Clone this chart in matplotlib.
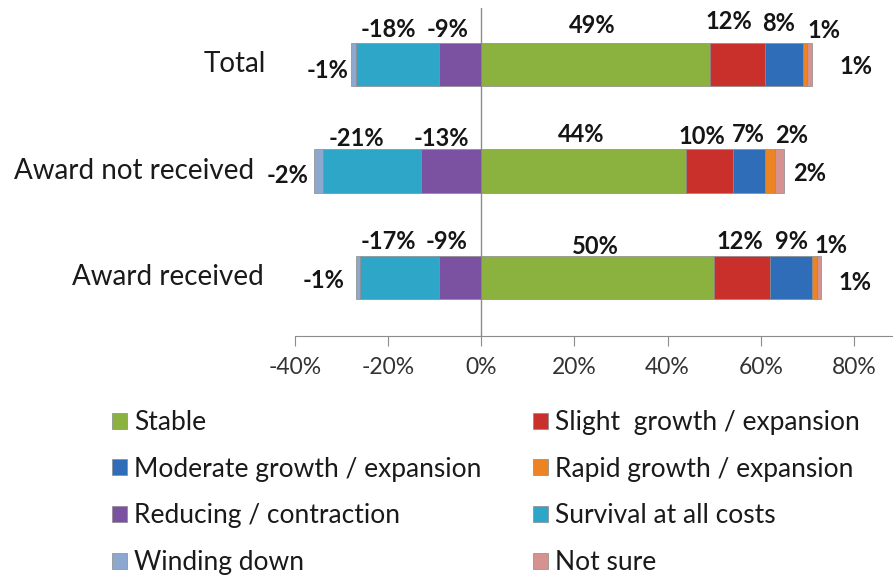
import numpy as np
import matplotlib.pyplot as plt
from matplotlib.patches import Patch
from matplotlib.transforms import blended_transform_factory

plt.rcParams['font.family'] = ['Lato', 'DejaVu Sans']

# Data
categories = ['Award received', 'Award not received', 'Total']
series = ['Stable', 'Slight  growth / expansion', 'Moderate growth / expansion',
          'Rapid growth / expansion', 'Reducing / contraction', 'Survival at all costs',
          'Winding down', 'Not sure']
stable = [50, 44, 49]
slight = [12, 10, 12]
moderate = [9, 7, 8]
rapid = [1, 2, 1]
reducing = [-9, -13, -9]
survival = [-17, -21, -18]
winding = [-1, -2, -1]
not_sure = [1, 2, 1]
xticks = [-40, -20, 0, 20, 40, 60, 80]

values = [stable, slight, moderate, rapid, reducing, survival, winding, not_sure]
colors = ['#8BB23E', '#C9302C', '#2F6DB8', '#EC8424',
          '#7B51A1', '#2DA6C8', '#8DA8CF', '#D69290']

# label nudges (dx in % from segment centre, dy in category units)
label_nudge = {
    'Total': [(-0.6, 0.37), (-1.9, 0.40), (-1.1, 0.38), (4.0, 0.32),
              (-2.8, 0.33), (-2.0, 0.33), (-5.6, -0.06), (9.9, -0.02)],
    'Award not received': [(-0.5, 0.34), (-1.7, 0.32), (-0.1, 0.34), (4.7, 0.33),
                           (-2.1, 0.30), (-3.4, 0.30), (-6.5, -0.04), (6.5, -0.02)],
    'Award received': [(-0.5, 0.29), (-0.4, 0.34), (0.2, 0.34), (3.6, 0.30),
                       (-3.0, 0.34), (-2.5, 0.34), (-7.3, -0.03), (7.7, -0.05)],
}

fig = plt.figure(figsize=(8.93, 5.85), dpi=100)
ax = fig.add_axes([295 / 893, 1 - 336 / 585, 1 - 295 / 893, 328 / 585])

y = np.arange(len(categories))
pos_left = np.zeros(len(categories))
neg_left = np.zeros(len(categories))
centers = []
for vals, col in zip(values, colors):
    v = np.array(vals, dtype=float)
    left = np.where(v >= 0, pos_left, neg_left)
    ax.barh(y, v, left=left, height=0.41, color=col,
            edgecolor='#8a8a8a', linewidth=0.5, zorder=2)
    centers.append(left + v / 2)
    pos_left = np.where(v >= 0, pos_left + v, pos_left)
    neg_left = np.where(v < 0, neg_left + v, neg_left)

for i, cat in enumerate(categories):
    for j, vals in enumerate(values):
        dx, dy = label_nudge[cat][j]
        ax.text(centers[j][i] + dx, y[i] + dy, f'{vals[i]}%',
                ha='center', va='center', fontsize=17, fontweight='bold',
                color='#151515', zorder=3)

# category labels, right aligned left of the plot
cat_x = {'Total': 266, 'Award not received': 254, 'Award received': 264}
trans = blended_transform_factory(fig.transFigure, ax.transData)
for i, cat in enumerate(categories):
    fig.text(cat_x[cat] / 893, y[i], cat, transform=trans, ha='right', va='center',
             fontsize=20, color='#1a1a1a')

ax.set_xlim(-40, 88.4)
ax.set_ylim(-0.55, 2.53)
ax.set_xticks(xticks)
ax.set_xticklabels([f'{t}%' for t in xticks], fontsize=16.5, color='#333333')
ax.set_yticks([])
ax.axvline(0, color='#8c8c8c', linewidth=1.0, zorder=1)
for s in ['top', 'right', 'left']:
    ax.spines[s].set_visible(False)
ax.spines['bottom'].set_color('#8c8c8c')
ax.tick_params(axis='x', length=7, color='#8c8c8c', pad=8)

# legend in two columns
left_idx = [0, 2, 4, 6]
right_idx = [1, 3, 5, 7]
for idx, xpos in [(left_idx, 112 / 893), (right_idx, 533 / 893)]:
    handles = [Patch(facecolor=colors[k], edgecolor='#8a8a8a', linewidth=0.5) for k in idx]
    fig.legend(handles, [series[k] for k in idx], loc='upper left',
               bbox_to_anchor=(xpos, 1 - 410 / 585), frameon=False,
               borderpad=0, borderaxespad=0,
               fontsize=19, handlelength=0.55, handleheight=0.55,
               handletextpad=0.3, labelspacing=0.82, labelcolor='#1a1a1a')

fig.savefig('out.png', dpi=100)
